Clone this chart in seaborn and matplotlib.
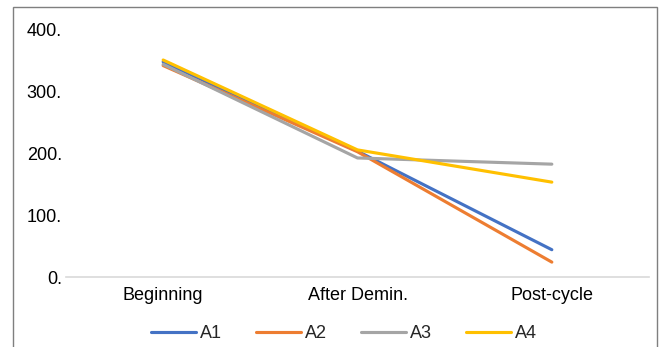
import matplotlib
matplotlib.use("Agg")
import matplotlib.pyplot as plt
from matplotlib.patches import Rectangle
import seaborn as sns
import pandas as pd

stages = ["Beginning", "After Demin.", "Post-cycle"]
series = ["A1", "A2", "A3", "A4"]
a1 = [347, 203, 44]
a2 = [341, 202, 24]
a3 = [343, 192, 182]
a4 = [350, 205, 153]
y_ticks = [0, 100, 200, 300, 400]
y_tick_labels = ["0.", "100.", "200.", "300.", "400."]
colors = ["#4472C4", "#ED7D31", "#A5A5A5", "#FFC000"]

rows = []
for name, vals in zip(series, [a1, a2, a3, a4]):
    for i, (st, v) in enumerate(zip(stages, vals)):
        rows.append({"stage": st, "pos": i, "series": name, "value": v})
df = pd.DataFrame(rows)

sns.set_theme(style="white")
plt.rcParams["font.family"] = ["Liberation Sans", "DejaVu Sans"]

fig = plt.figure(figsize=(6.59, 3.47), dpi=100)
ax = fig.add_axes([66 / 659, 1 - 277 / 347, (649 - 66) / 659, (277 - 29) / 347])

sns.lineplot(data=df, x="pos", y="value", hue="series", palette=colors,
             linewidth=2.25, sort=False, ax=ax, legend=True)

ax.set_xlim(-0.5, 2.5)
ax.set_ylim(0, 400)
ax.set_xticks(range(len(stages)))
ax.set_xticklabels(stages)
ax.set_yticks(y_ticks)
ax.set_yticklabels(y_tick_labels)
ax.tick_params(axis="both", length=0, labelsize=13, colors="#000000")
ax.tick_params(axis="x", pad=7)
ax.tick_params(axis="y", pad=3)
ax.set_xlabel("")
ax.set_ylabel("")
for side in ["top", "right", "left"]:
    ax.spines[side].set_visible(False)
ax.spines["bottom"].set_color("#D9D9D9")
ax.spines["bottom"].set_linewidth(1.2)

handles, labels = ax.get_legend_handles_labels()
ax.legend(handles, labels, loc="center", bbox_to_anchor=(344 / 659, 1 - 334 / 347),
          bbox_transform=fig.transFigure, ncol=4, frameon=False, fontsize=13,
          handlelength=2.5, handletextpad=0.25, columnspacing=1.85)

# outer chart border
fig.patches.append(Rectangle((13 / 659, -0.1), (657 - 13) / 659, 1.1 - 7 / 347,
                             transform=fig.transFigure, fill=False,
                             edgecolor="#7F7F7F", linewidth=1.0))

fig.savefig("out.png", dpi=100)
